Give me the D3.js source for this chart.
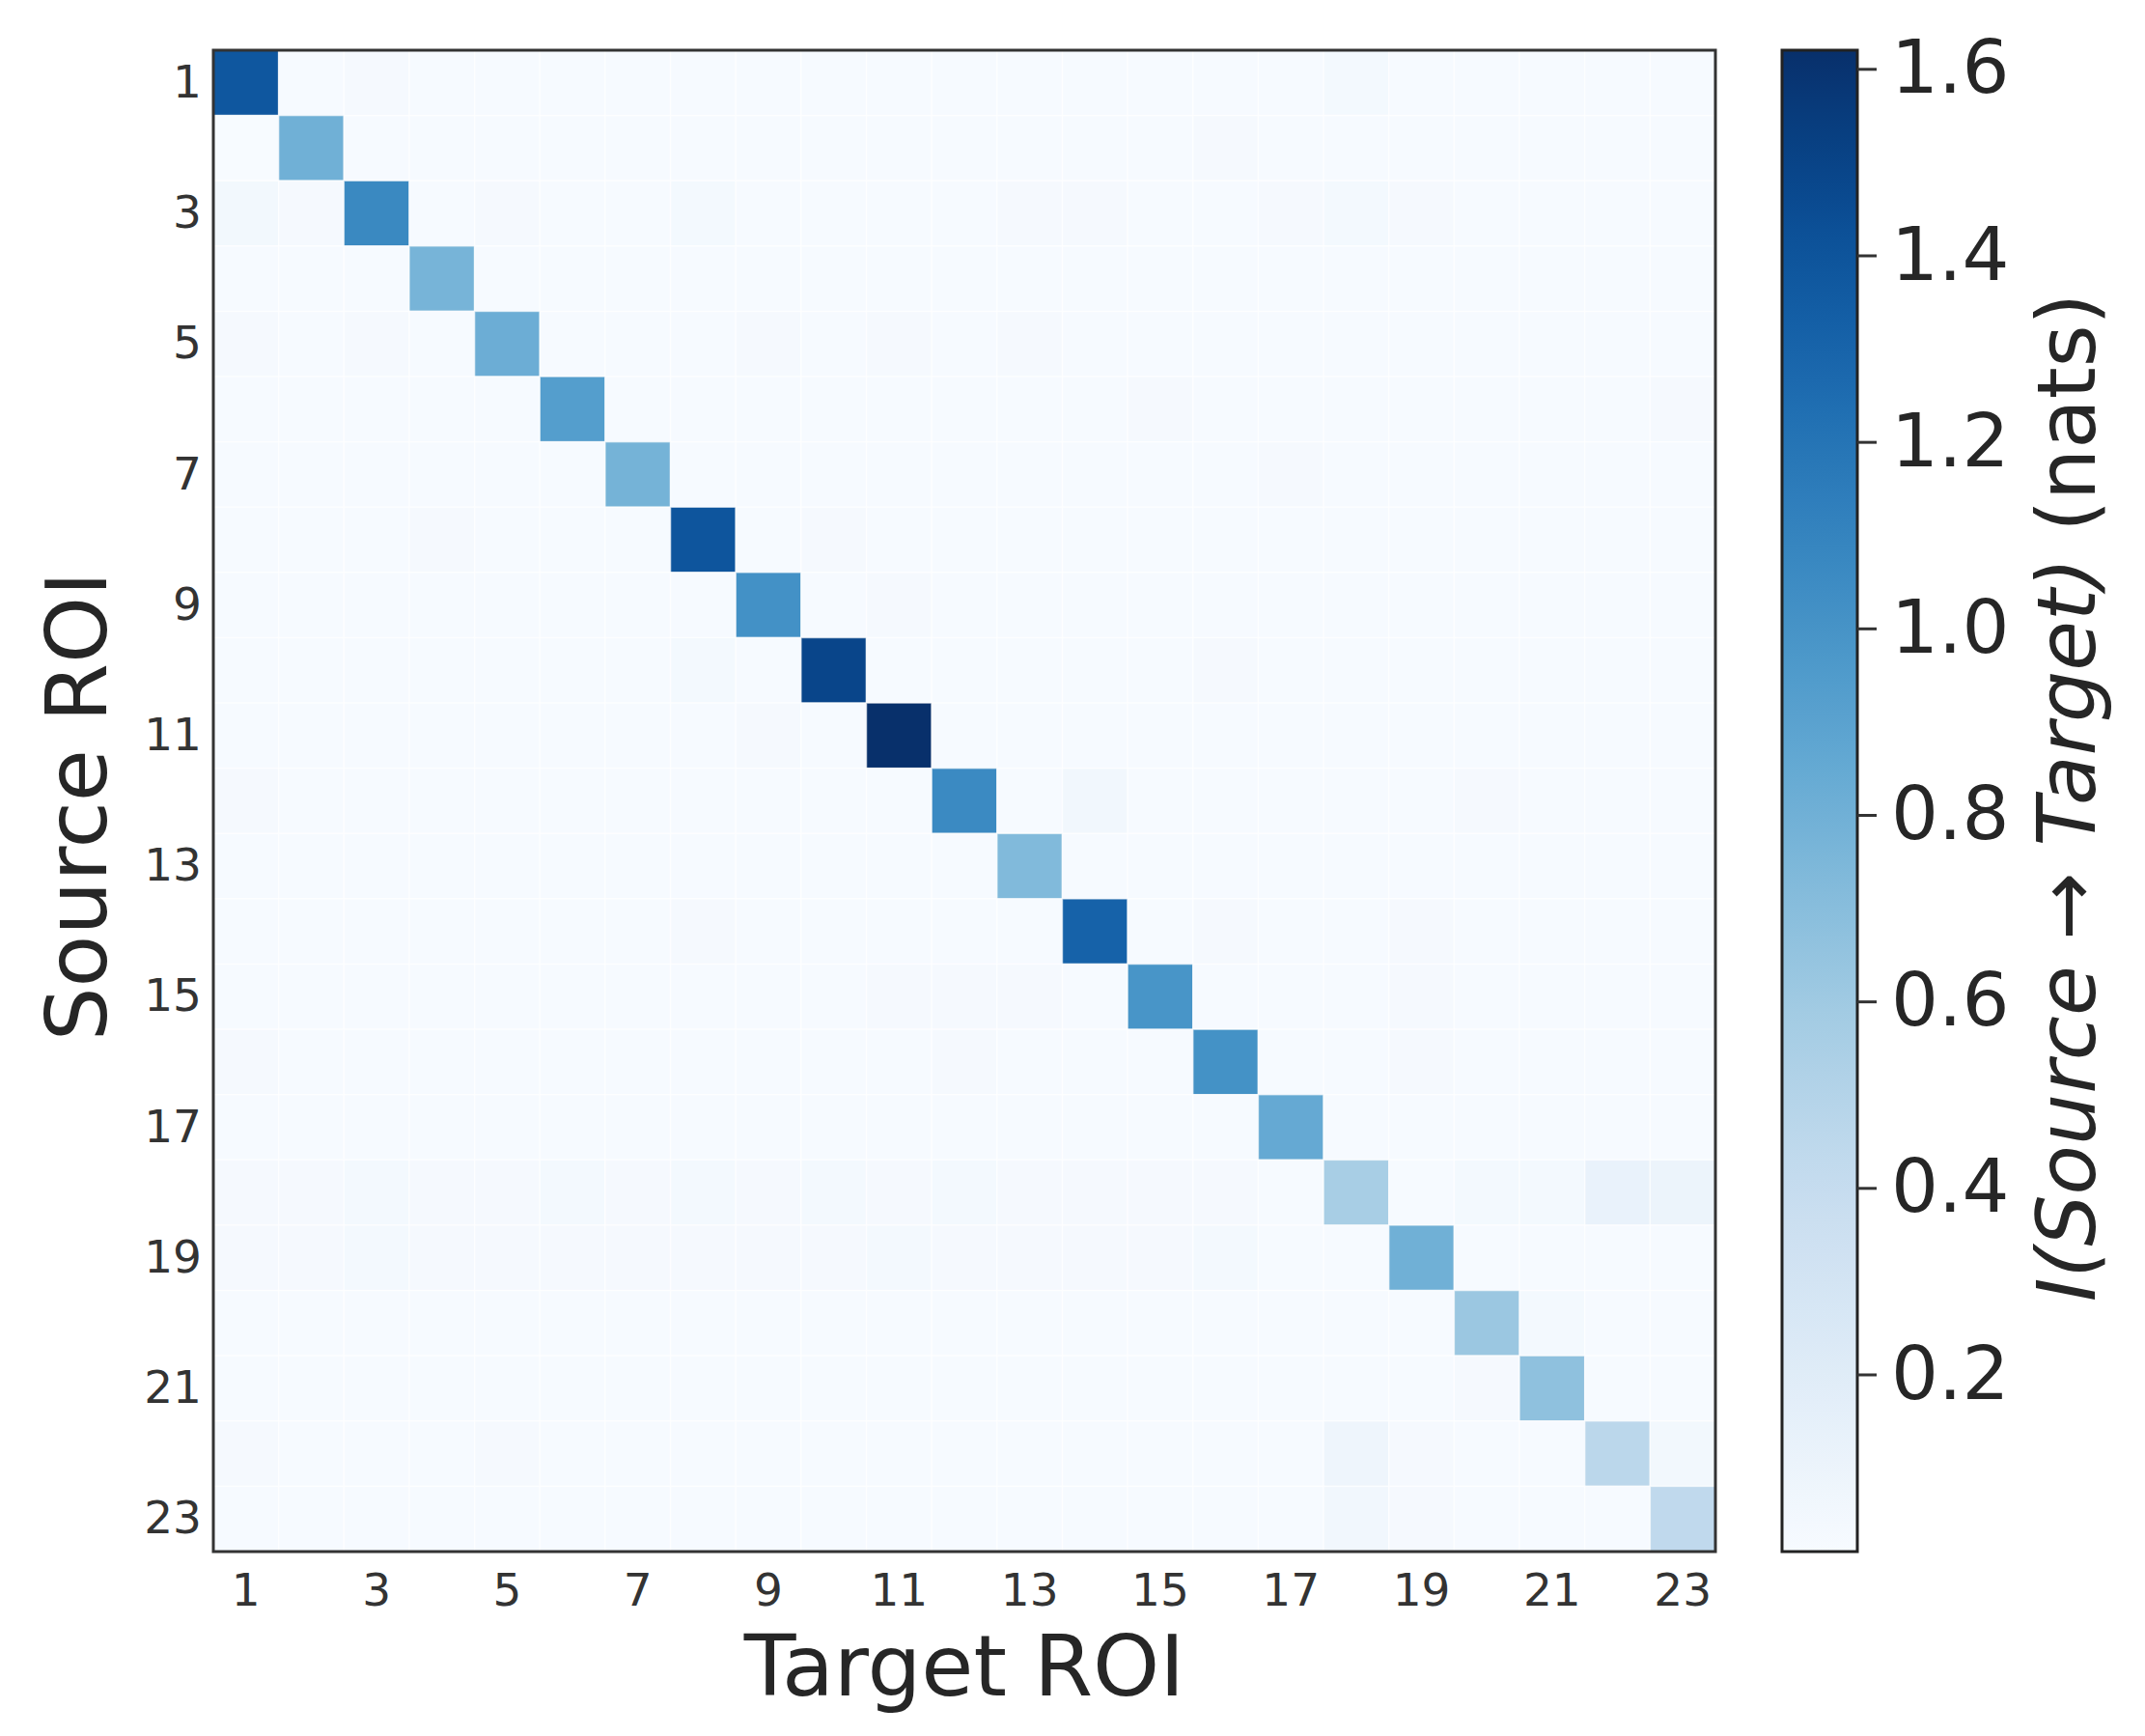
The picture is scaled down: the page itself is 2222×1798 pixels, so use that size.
<!DOCTYPE html>
<html>
<head>
<meta charset="utf-8">
<script src="https://cdn.jsdelivr.net/npm/d3@7"></script>
<style>
  body { margin: 0; background: white; }
  text { font-family: "DejaVu Sans", sans-serif; }
</style>
</head>
<body>
<div id="container"></div>
<script>
/* CONSTANTS AND GLOBALS */
const width = 2222,
  height = 1798,
  plotLeft = 221, plotRight = 1777,
  plotTop = 52, plotBottom = 1607,
  cbLeft = 1846, cbRight = 1924;

/* DATA */
// ROI ids 1..23
const rois = d3.range(1, 24);
const tickRois = [1, 3, 5, 7, 9, 11, 13, 15, 17, 19, 21, 23];
const cbTicks = [0.2, 0.4, 0.6, 0.8, 1.0, 1.2, 1.4, 1.6];
const valueRange = [0.01, 1.62];

// rows = source ROI, columns = target ROI
const mi = [
  [1.38, 0.02, 0.03, 0.02, 0.02, 0.02, 0.02, 0.02, 0.02, 0.02, 0.02, 0.02, 0.02, 0.02, 0.02, 0.02, 0.02, 0.04, 0.02, 0.02, 0.02, 0.02, 0.02],
  [0.01, 0.80, 0.02, 0.02, 0.02, 0.02, 0.02, 0.02, 0.02, 0.02, 0.02, 0.02, 0.02, 0.02, 0.02, 0.03, 0.02, 0.02, 0.02, 0.02, 0.02, 0.02, 0.02],
  [0.05, 0.03, 1.07, 0.02, 0.03, 0.02, 0.02, 0.04, 0.02, 0.02, 0.02, 0.02, 0.03, 0.03, 0.02, 0.02, 0.03, 0.04, 0.03, 0.02, 0.02, 0.02, 0.02],
  [0.02, 0.02, 0.02, 0.77, 0.02, 0.02, 0.02, 0.02, 0.02, 0.02, 0.02, 0.02, 0.02, 0.02, 0.02, 0.02, 0.02, 0.02, 0.02, 0.02, 0.02, 0.02, 0.02],
  [0.03, 0.02, 0.03, 0.02, 0.82, 0.02, 0.02, 0.02, 0.03, 0.02, 0.03, 0.02, 0.03, 0.02, 0.02, 0.02, 0.02, 0.02, 0.02, 0.02, 0.02, 0.02, 0.02],
  [0.02, 0.02, 0.02, 0.02, 0.02, 0.93, 0.02, 0.02, 0.02, 0.02, 0.02, 0.02, 0.02, 0.02, 0.03, 0.02, 0.02, 0.02, 0.02, 0.02, 0.02, 0.02, 0.03],
  [0.02, 0.02, 0.02, 0.02, 0.02, 0.02, 0.78, 0.02, 0.02, 0.02, 0.02, 0.02, 0.02, 0.02, 0.02, 0.02, 0.03, 0.02, 0.02, 0.02, 0.02, 0.02, 0.02],
  [0.02, 0.02, 0.02, 0.03, 0.02, 0.02, 0.02, 1.39, 0.02, 0.03, 0.02, 0.02, 0.02, 0.02, 0.02, 0.02, 0.02, 0.02, 0.02, 0.02, 0.02, 0.02, 0.02],
  [0.02, 0.02, 0.02, 0.02, 0.02, 0.02, 0.02, 0.02, 1.02, 0.02, 0.03, 0.02, 0.02, 0.02, 0.02, 0.02, 0.02, 0.02, 0.02, 0.02, 0.02, 0.02, 0.02],
  [0.02, 0.02, 0.02, 0.02, 0.02, 0.02, 0.02, 0.04, 0.02, 1.49, 0.02, 0.02, 0.02, 0.02, 0.02, 0.03, 0.02, 0.02, 0.02, 0.02, 0.02, 0.02, 0.02],
  [0.02, 0.02, 0.02, 0.02, 0.02, 0.02, 0.02, 0.02, 0.03, 0.02, 1.62, 0.02, 0.02, 0.02, 0.02, 0.02, 0.02, 0.02, 0.02, 0.02, 0.02, 0.02, 0.02],
  [0.03, 0.02, 0.02, 0.02, 0.02, 0.02, 0.02, 0.02, 0.02, 0.02, 0.02, 1.06, 0.02, 0.06, 0.02, 0.02, 0.02, 0.02, 0.02, 0.03, 0.02, 0.02, 0.02],
  [0.02, 0.02, 0.02, 0.02, 0.02, 0.02, 0.02, 0.02, 0.02, 0.02, 0.02, 0.02, 0.73, 0.02, 0.02, 0.02, 0.02, 0.02, 0.02, 0.02, 0.02, 0.02, 0.02],
  [0.02, 0.02, 0.02, 0.02, 0.02, 0.02, 0.02, 0.03, 0.02, 0.02, 0.02, 0.02, 0.02, 1.31, 0.02, 0.03, 0.02, 0.02, 0.03, 0.02, 0.02, 0.02, 0.02],
  [0.02, 0.02, 0.02, 0.02, 0.02, 0.02, 0.02, 0.02, 0.02, 0.02, 0.03, 0.03, 0.03, 0.02, 0.99, 0.02, 0.02, 0.02, 0.03, 0.02, 0.02, 0.02, 0.02],
  [0.03, 0.02, 0.02, 0.02, 0.02, 0.02, 0.02, 0.02, 0.02, 0.02, 0.02, 0.03, 0.02, 0.02, 0.02, 1.01, 0.02, 0.02, 0.03, 0.02, 0.02, 0.02, 0.02],
  [0.02, 0.02, 0.02, 0.02, 0.02, 0.02, 0.02, 0.02, 0.02, 0.02, 0.02, 0.02, 0.02, 0.02, 0.02, 0.02, 0.85, 0.02, 0.02, 0.02, 0.02, 0.02, 0.02],
  [0.03, 0.03, 0.04, 0.03, 0.03, 0.04, 0.03, 0.04, 0.03, 0.04, 0.03, 0.04, 0.03, 0.03, 0.03, 0.03, 0.02, 0.56, 0.02, 0.04, 0.04, 0.12, 0.10],
  [0.03, 0.03, 0.04, 0.03, 0.03, 0.03, 0.03, 0.03, 0.03, 0.03, 0.04, 0.03, 0.03, 0.03, 0.03, 0.04, 0.02, 0.02, 0.80, 0.02, 0.02, 0.02, 0.02],
  [0.02, 0.02, 0.02, 0.02, 0.02, 0.02, 0.02, 0.02, 0.02, 0.02, 0.02, 0.02, 0.02, 0.02, 0.02, 0.02, 0.02, 0.02, 0.02, 0.62, 0.04, 0.02, 0.02],
  [0.02, 0.02, 0.02, 0.02, 0.02, 0.02, 0.02, 0.02, 0.02, 0.02, 0.02, 0.02, 0.02, 0.02, 0.02, 0.02, 0.02, 0.02, 0.02, 0.03, 0.67, 0.02, 0.02],
  [0.03, 0.02, 0.02, 0.02, 0.03, 0.02, 0.02, 0.02, 0.02, 0.02, 0.02, 0.02, 0.02, 0.02, 0.02, 0.02, 0.02, 0.08, 0.03, 0.02, 0.02, 0.46, 0.05],
  [0.02, 0.02, 0.02, 0.02, 0.02, 0.02, 0.02, 0.02, 0.02, 0.02, 0.02, 0.02, 0.02, 0.02, 0.02, 0.02, 0.02, 0.06, 0.03, 0.02, 0.02, 0.02, 0.43]
];

const cells = [];
mi.forEach((row, i) => row.forEach((v, j) => cells.push({ src: rois[i], tgt: rois[j], v })));

const svg = d3.select("#container")
  .append("svg")
  .attr("width", width)
  .attr("height", height)
  .style("background-color", "white");

/* SCALES */
const xScale = d3.scaleBand().domain(rois).range([plotLeft, plotRight]);
const yScale = d3.scaleBand().domain(rois).range([plotTop, plotBottom]);
const color = d3.scaleSequential(d3.interpolateBlues).domain(valueRange);
const cScale = d3.scaleLinear().domain(valueRange).range([plotBottom, plotTop]);

/* CELLS */
svg.selectAll(".cell")
  .data(cells)
  .join("rect")
  .attr("class", "cell")
  .attr("x", d => xScale(d.tgt))
  .attr("y", d => yScale(d.src))
  .attr("width", xScale.bandwidth())
  .attr("height", yScale.bandwidth())
  .attr("fill", d => color(d.v))
  .attr("stroke", "white")
  .attr("stroke-opacity", 0.6)
  .attr("stroke-width", 1.5);

// frame
svg.append("rect")
  .attr("x", plotLeft).attr("y", plotTop)
  .attr("width", plotRight - plotLeft).attr("height", plotBottom - plotTop)
  .attr("fill", "none").attr("stroke", "#333").attr("stroke-width", 3);

/* AXES */
const xAxis = svg.append("g")
  .attr("transform", `translate(0, ${plotBottom})`)
  .call(d3.axisBottom(xScale).tickValues(tickRois).tickSize(0).tickPadding(23));
const yAxis = svg.append("g")
  .attr("transform", `translate(${plotLeft}, 0)`)
  .call(d3.axisLeft(yScale).tickValues(tickRois).tickSize(0).tickPadding(12));

[xAxis, yAxis].forEach(g => {
  g.select(".domain").remove();
  g.selectAll("text")
    .style("font-family", "'DejaVu Sans', sans-serif")
    .style("font-size", "47px")
    .attr("fill", "#333");
});

svg.append("text")
  .attr("x", (plotLeft + plotRight) / 2)
  .attr("y", 1756)
  .attr("text-anchor", "middle")
  .style("font-size", "88px")
  .attr("fill", "#262626")
  .text("Target ROI");

svg.append("text")
  .attr("transform", `translate(110, 835) rotate(-90)`)
  .attr("text-anchor", "middle")
  .style("font-size", "88px")
  .attr("fill", "#262626")
  .text("Source ROI");

/* COLORBAR */
const grad = svg.append("defs").append("linearGradient")
  .attr("id", "cbGrad")
  .attr("x1", 0).attr("y1", 1).attr("x2", 0).attr("y2", 0);
grad.selectAll("stop")
  .data(d3.range(0, 1.0001, 0.02))
  .join("stop")
  .attr("offset", d => d)
  .attr("stop-color", d => color(valueRange[0] + d * (valueRange[1] - valueRange[0])));

svg.append("rect")
  .attr("x", cbLeft).attr("y", plotTop)
  .attr("width", cbRight - cbLeft).attr("height", plotBottom - plotTop)
  .attr("fill", "url(#cbGrad)")
  .attr("stroke", "#222").attr("stroke-width", 3);

const cAxis = svg.append("g")
  .attr("transform", `translate(${cbRight}, 0)`)
  .call(d3.axisRight(cScale).tickValues(cbTicks).tickFormat(d3.format(".1f")).tickSize(20).tickPadding(15));
cAxis.select(".domain").remove();
cAxis.selectAll("line").attr("stroke", "#333").attr("stroke-width", 3);
cAxis.selectAll("text")
  .style("font-family", "'DejaVu Sans', sans-serif")
  .style("font-size", "77px")
  .attr("fill", "#262626");

const cbLabel = svg.append("text")
  .attr("transform", `translate(2170, 826) rotate(-90)`)
  .attr("text-anchor", "middle")
  .style("font-size", "84px")
  .attr("fill", "#262626");
cbLabel.append("tspan").style("font-style", "italic").text("I(Source \u2192 Target)");
cbLabel.append("tspan").text(" (nats)");
</script>
</body>
</html>
